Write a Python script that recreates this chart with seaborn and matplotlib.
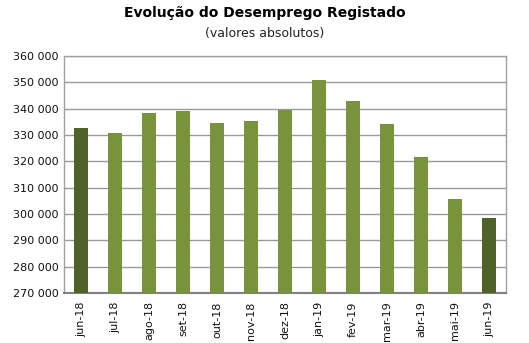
import matplotlib
matplotlib.use("Agg")
import matplotlib.pyplot as plt
import seaborn as sns
import pandas as pd

months = ["jun-18", "jul-18", "ago-18", "set-18", "out-18", "nov-18", "dez-18",
          "jan-19", "fev-19", "mar-19", "abr-19", "mai-19", "jun-19"]
values = [332700, 330700, 338500, 339200, 334500, 335300, 339600,
          351000, 342900, 334100, 321500, 305600, 298300]
highlight = ["jun-18", "jun-19"]

df = pd.DataFrame({"month": months, "value": values})
df["kind"] = ["dark" if m in highlight else "light" for m in months]

sns.set_style("white")
plt.rcParams['font.family'] = ['DejaVu Sans']

fig = plt.figure(figsize=(5.29, 3.43), dpi=100)
ax = fig.add_axes([64/529, 50/343, 442/529, 237/343])

palette = {"light": "#77933C", "dark": "#4F6228"}
sns.barplot(data=df, x="month", y="value", hue="kind", palette=palette,
            dodge=False, width=0.43, legend=False, ax=ax, saturation=1,
            linewidth=0, edgecolor="none")
for p in ax.patches:
    p.set_zorder(3)

ax.set_ylim(270000, 360000)
ticks = list(range(270000, 360001, 10000))
ax.set_yticks(ticks)
ax.set_yticklabels([f"{t:,}".replace(",", " ") for t in ticks], fontsize=8, color="#111111")
ax.yaxis.grid(True, color="#9a9a9a", linewidth=1)
ax.set_axisbelow(True)
ax.set_xlim(-0.5, len(months) - 0.5)
ax.set_xticks(range(len(months)))
ax.set_xticklabels(months, rotation=90, fontsize=8, color="#111111")
ax.tick_params(axis="x", length=4, color="#808080", pad=2)
ax.tick_params(axis="y", length=0, pad=4)
ax.set_xlabel("")
ax.set_ylabel("")
for s in ["left", "right", "top"]:
    ax.spines[s].set_color("#a0a0a0")
    ax.spines[s].set_linewidth(1)
ax.spines["bottom"].set_color("#808080")
ax.spines["bottom"].set_linewidth(1.5)

fig.text(0.5, 1 - 13/343, "Evolução do Desemprego Registado", ha="center", va="center",
         fontsize=10, fontweight="bold", color="black")
fig.text(0.5, 1 - 34/343, "(valores absolutos)", ha="center", va="center", fontsize=9,
         color="#222222")

fig.savefig("out.png", dpi=100)
